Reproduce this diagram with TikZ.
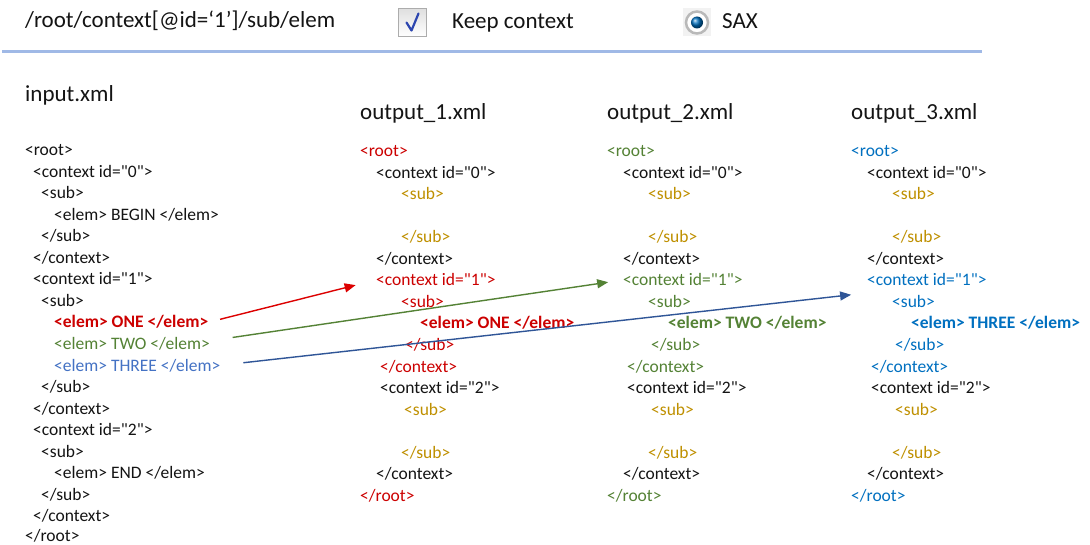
\documentclass[tikz,border=0pt]{standalone}
\usepackage{fontspec}
\setmainfont{Carlito}[Ligatures=TeXOff]
\usetikzlibrary{arrows.meta}
\definecolor{ink}{RGB}{20,20,20}
\definecolor{xmlred}{RGB}{204,0,0}
\definecolor{xmlgreen}{RGB}{84,130,53}
\definecolor{inblue}{RGB}{68,114,196}
\definecolor{outblue}{RGB}{0,112,192}
\definecolor{gold}{RGB}{191,144,0}
\definecolor{arrowred}{RGB}{220,0,0}
\definecolor{arrowblue}{RGB}{47,85,151}
\definecolor{rulecol}{RGB}{160,185,230}
\definecolor{tickblue}{RGB}{45,70,175}
\tikzstyle{xml} = [anchor=base west, inner sep=0pt, font=\fontsize{17.5}{21}\selectfont, text=ink]
\tikzstyle{title} = [anchor=base west, inner sep=0pt, font=\fontsize{23}{27}\selectfont, text=ink]
\tikzstyle{hit} = [font=\fontsize{17.5}{21}\selectfont\bfseries]
\tikzstyle{checkbox} = [rectangle, minimum size=28pt, inner sep=0pt, draw=gray!65, line width=1pt, top color=gray!25, bottom color=white]
\tikzstyle{radiobg} = [rectangle, minimum size=28pt, inner sep=0pt, fill=gray!10]
\tikzstyle{radio} = [circle, minimum size=22pt, inner sep=0pt, draw=gray!55, line width=2.5pt, fill=white]
\tikzstyle{radiodot} = [circle, minimum size=12pt, inner sep=0pt, ball color=outblue]
\tikzstyle{arrow} = [line width=1.4pt, -{Triangle[length=11pt,width=9pt]}]

\begin{document}
\begin{tikzpicture}[x=1pt, y=-1pt]

\fill[white] (0,0) rectangle (1090,545);
\useasboundingbox (0,0) rectangle (1090,545);

% toolbar
\node (xpath) [title] at (25,28) {/root/context[@id=‘1’]/sub/elem};
\node (keepbox) [checkbox] at (412.5,22.5) {};
\draw[tickblue, line width=2.2pt, line cap=round, line join=round] ([shift={(-6,0)}]keepbox.center) -- ([shift={(-1,8)}]keepbox.center) -- ([shift={(6,-9)}]keepbox.center);
\node (keeplabel) [title] at (452,29) {Keep context};
\node (saxbg) [radiobg] at (697,22.5) {};
\node (saxradio) [radio] at (saxbg) {};
\node (saxdot) [radiodot] at (saxradio) {};
\node (saxlabel) [title] at (722,29) {SAX};
\draw[rulecol, line width=2.5pt] (2,51.5) -- (982,51.5);

% input.xml
\node (intitle) [title] at (25,102) {input.xml};
\node (in-root) [xml] at (25,156) {<root>};
\node (in-ctx0) [xml] at (33,177.5) {<context id="0">};
\node (in-sub0) [xml] at (41,199) {<sub>};
\node (in-begin) [xml] at (54,220.5) {<elem> BEGIN </elem>};
\node (in-esub0) [xml] at (41,242) {</sub>};
\node (in-ectx0) [xml] at (33,263.5) {</context>};
\node (in-ctx1) [xml] at (33,285) {<context id="1">};
\node (in-sub1) [xml] at (41,306.5) {<sub>};
\node (in-one) [xml, hit, text=xmlred] at (54,328) {<elem> ONE </elem>};
\node (in-two) [xml, text=xmlgreen] at (54,349.5) {<elem> TWO </elem>};
\node (in-three) [xml, text=inblue] at (54,371) {<elem> THREE </elem>};
\node (in-esub1) [xml] at (41,392.5) {</sub>};
\node (in-ectx1) [xml] at (33,414) {</context>};
\node (in-ctx2) [xml] at (33,435.5) {<context id="2">};
\node (in-sub2) [xml] at (41,457) {<sub>};
\node (in-end) [xml] at (54,478.5) {<elem> END </elem>};
\node (in-esub2) [xml] at (41,500) {</sub>};
\node (in-ectx2) [xml] at (33,521.5) {</context>};
\node (in-eroot) [xml] at (25,541) {</root>};

% output_1.xml
\node (otitle1) [title] at (360,120) {output\_1.xml};
\node (o1-root) [xml, text=xmlred] at (360,157) {<root>};
\node (o1-ctx0) [xml] at (376,178.5) {<context id="0">};
\node (o1-sub0) [xml, text=gold] at (401,200) {<sub>};
\node (o1-esub0) [xml, text=gold] at (401,243) {</sub>};
\node (o1-ectx0) [xml] at (376,264.5) {</context>};
\node (o1-ctx1) [xml, text=xmlred] at (376,286) {<context id="1">};
\node (o1-sub1) [xml, text=xmlred] at (401,307.5) {<sub>};
\node (o1-one) [xml, hit, text=xmlred] at (420,329) {<elem> ONE </elem>};
\node (o1-esub1) [xml, text=xmlred] at (405,350.5) {</sub>};
\node (o1-ectx1) [xml, text=xmlred] at (380,372) {</context>};
\node (o1-ctx2) [xml] at (380,393.5) {<context id="2">};
\node (o1-sub2) [xml, text=gold] at (404,415) {<sub>};
\node (o1-esub2) [xml, text=gold] at (401,458) {</sub>};
\node (o1-ectx2) [xml] at (376,479.5) {</context>};
\node (o1-eroot) [xml, text=xmlred] at (360,501) {</root>};

% output_2.xml
\node (otitle2) [title] at (607,120) {output\_2.xml};
\node (o2-root) [xml, text=xmlgreen] at (607,157) {<root>};
\node (o2-ctx0) [xml] at (623,178.5) {<context id="0">};
\node (o2-sub0) [xml, text=gold] at (648,200) {<sub>};
\node (o2-esub0) [xml, text=gold] at (648,243) {</sub>};
\node (o2-ectx0) [xml] at (623,264.5) {</context>};
\node (o2-ctx1) [xml, text=xmlgreen] at (623,286) {<context id="1">};
\node (o2-sub1) [xml, text=xmlgreen] at (648,307.5) {<sub>};
\node (o2-two) [xml, hit, text=xmlgreen] at (668,329) {<elem> TWO </elem>};
\node (o2-esub1) [xml, text=xmlgreen] at (651,350.5) {</sub>};
\node (o2-ectx1) [xml, text=xmlgreen] at (627,372) {</context>};
\node (o2-ctx2) [xml] at (627,393.5) {<context id="2">};
\node (o2-sub2) [xml, text=gold] at (651,415) {<sub>};
\node (o2-esub2) [xml, text=gold] at (648,458) {</sub>};
\node (o2-ectx2) [xml] at (623,479.5) {</context>};
\node (o2-eroot) [xml, text=xmlgreen] at (607,501) {</root>};

% output_3.xml
\node (otitle3) [title] at (851,120) {output\_3.xml};
\node (o3-root) [xml, text=outblue] at (851,157) {<root>};
\node (o3-ctx0) [xml] at (867,178.5) {<context id="0">};
\node (o3-sub0) [xml, text=gold] at (892,200) {<sub>};
\node (o3-esub0) [xml, text=gold] at (892,243) {</sub>};
\node (o3-ectx0) [xml] at (867,264.5) {</context>};
\node (o3-ctx1) [xml, text=outblue] at (867,286) {<context id="1">};
\node (o3-sub1) [xml, text=outblue] at (892,307.5) {<sub>};
\node (o3-three) [xml, hit, text=outblue] at (911,329) {<elem> THREE </elem>};
\node (o3-esub1) [xml, text=outblue] at (895,350.5) {</sub>};
\node (o3-ectx1) [xml, text=outblue] at (871,372) {</context>};
\node (o3-ctx2) [xml] at (871,393.5) {<context id="2">};
\node (o3-sub2) [xml, text=gold] at (895,415) {<sub>};
\node (o3-esub2) [xml, text=gold] at (892,458) {</sub>};
\node (o3-ectx2) [xml] at (867,479.5) {</context>};
\node (o3-eroot) [xml, text=outblue] at (851,501) {</root>};

% arrows
\draw [arrow, arrowred, shorten <=12pt, shorten >=21pt] (in-one.east) -- (o1-ctx1.west);
\draw [arrow, xmlgreen, shorten <=23pt, shorten >=15pt] ([yshift=3pt]in-two.east) -- (o2-ctx1.west);
\draw [arrow, arrowblue, shorten <=23pt, shorten >=16pt] (in-three.east) -- ([yshift=-13pt]o3-ctx1.west);

\end{tikzpicture}
\end{document}
